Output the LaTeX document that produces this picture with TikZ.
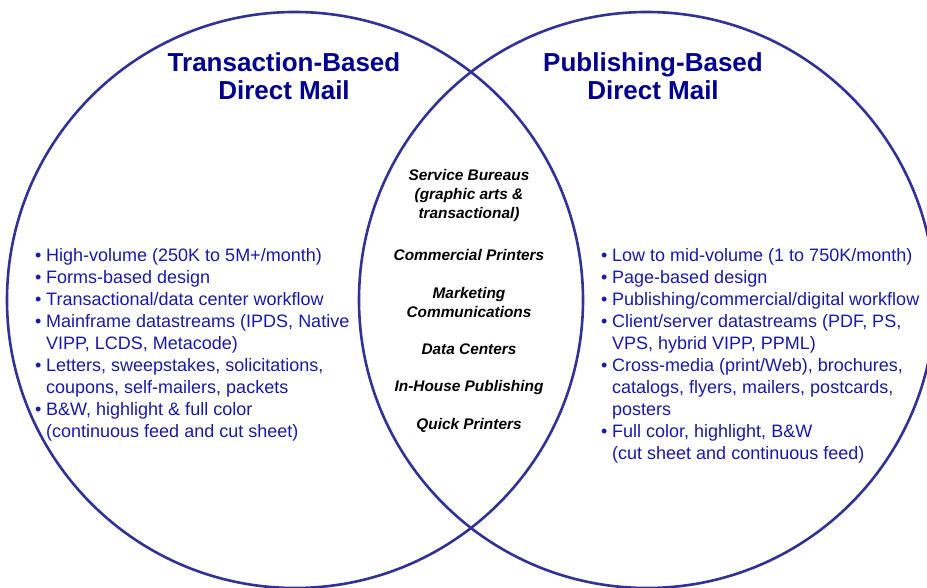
\documentclass[tikz,border=0pt]{standalone}
\usepackage{fontspec}
\setmainfont{Liberation Sans}
\usetikzlibrary{positioning}

\definecolor{titleblue}{RGB}{0,0,140}
\definecolor{bodyblue}{RGB}{25,25,165}
\definecolor{ringblue}{RGB}{50,50,150}

\newcommand{\itm}{\makebox[11pt][l]{•}}
\newcommand{\cnt}{\hspace*{11pt}}

\begin{document}
\begin{tikzpicture}[x=1pt,y=-1pt,
       ring/.style={
         circle,
         draw=ringblue,
         line width=2.6pt,
         inner sep=0pt,
         minimum size=576pt},
       heading/.style={
         text=titleblue,
         align=center,
         inner sep=0pt,
         font=\fontsize{26}{28}\selectfont\bfseries},
       bullets/.style = {text=bodyblue, align=left, inner sep=0pt, anchor=west, font=\fontsize{18}{22}\selectfont},
       sector/.style = {align=center, inner sep=0pt, font=\fontsize{15.4}{19}\selectfont\bfseries\itshape},
node distance=26pt
      ]
      \useasboundingbox (0,0) rectangle (927,588);
      \clip (0,0) rectangle (927,588);

      \node[ring] (trans) at (295,300) {};
      \node[ring] (publ) at (647,300) {};

      \node[heading] (transT) at (284,76) {Transaction-Based\\Direct Mail};
      \node[heading] (publT) at (653,76) {Publishing-Based\\Direct Mail};

      \node[sector] (sb) at (469,196) {Service Bureaus\\(graphic arts \&\\transactional)};
      \node[sector, below = 27pt of sb] (cp) {Commercial Printers};
      \node[sector, below = of cp] (mc) {Marketing\\Communications};
      \node[sector, below = of mc] (dc) {Data Centers};
      \node[sector, below = 25pt of dc] (ih) {In-House Publishing};
      \node[sector, below = 23pt of ih] (qp) {Quick Printers};

      \node[bullets] (transL) at (35,344.5) {\itm High-volume (250K to 5M+/month)\\
        \itm Forms-based design\\
        \itm Transactional/data center workflow\\
        \itm Mainframe datastreams (IPDS, Native\\
        \cnt VIPP, LCDS, Metacode)\\
        \itm Letters, sweepstakes, solicitations,\\
        \cnt coupons, self-mailers, packets\\
        \itm B\&W, highlight \& full color\\
        \cnt (continuous feed and cut sheet)};

      \node[bullets] (publL) at (601,355.5) {\itm Low to mid-volume (1 to 750K/month)\\
        \itm Page-based design\\
        \itm Publishing/commercial/digital workflow\\
        \itm Client/server datastreams (PDF, PS,\\
        \cnt VPS, hybrid VIPP, PPML)\\
        \itm Cross-media (print/Web), brochures,\\
        \cnt catalogs, flyers, mailers, postcards,\\
        \cnt posters\\
        \itm Full color, highlight, B\&W\\
        \cnt (cut sheet and continuous feed)};

\end{tikzpicture}
\end{document}
